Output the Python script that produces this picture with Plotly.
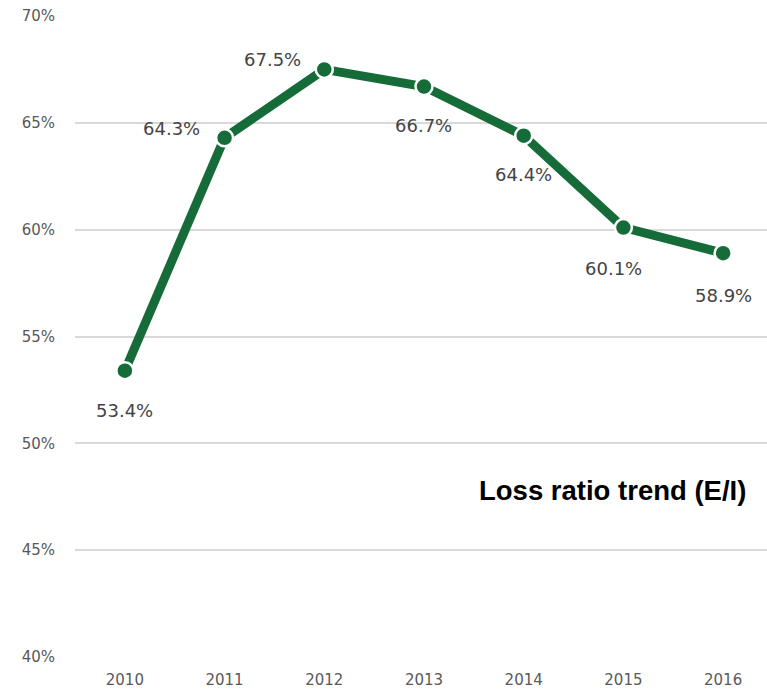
import plotly.graph_objects as go

years = ["2010", "2011", "2012", "2013", "2014", "2015", "2016"]
loss_ratio = [53.4, 64.3, 67.5, 66.7, 64.4, 60.1, 58.9]
y_ticks = [40, 45, 50, 55, 60, 65, 70]
y_tick_text = [f"{t}%" for t in y_ticks]

# label offsets (pixels) relative to each point
label_dx = [0, -53, -52, 0, 0, -10, 0]
label_dy = [-40, 9, 10, -39, -39, -41, -42]

GREEN = "#166c38"

fig = go.Figure()
fig.add_trace(go.Scatter(
    x=years, y=loss_ratio, mode="lines+markers",
    line=dict(color=GREEN, width=9),
    marker=dict(size=17, color=GREEN, line=dict(color="white", width=2.5)),
    hoverinfo="skip", showlegend=False,
))

# category axis: annotations are placed by category index
for i, (v, dx, dy) in enumerate(zip(loss_ratio, label_dx, label_dy)):
    fig.add_annotation(
        x=i, y=v, text=f"{v:.1f}%", showarrow=False,
        xshift=dx, yshift=dy,
        font=dict(family="DejaVu Sans", size=18, color="#444444"),
    )

fig.add_annotation(
    xref="paper", yref="paper", x=0.972, y=0.26, xanchor="right", yanchor="middle",
    text="<b>Loss ratio trend (E/I)</b>", showarrow=False,
    font=dict(family="Liberation Sans", size=27.5, color="#000000"),
)

fig.update_layout(
    width=767, height=693,
    margin=dict(l=75, r=0, t=16, b=36),
    paper_bgcolor="white", plot_bgcolor="white",
    xaxis=dict(
        type="category", range=[-0.5, 6.44],
        showgrid=False, zeroline=False, showline=False, ticks="",
        tickfont=dict(family="DejaVu Sans", size=15, color="#595959"),
        ticklabelstandoff=12,
    ),
    yaxis=dict(
        range=[40, 70], tickmode="array", tickvals=y_ticks, ticktext=y_tick_text,
        showgrid=True, gridcolor="#d9d9d9", gridwidth=2,
        zeroline=False, showline=False, ticks="",
        tickfont=dict(family="DejaVu Sans", size=15, color="#595959"),
        ticklabelstandoff=19,
    ),
)

fig.write_html("out.html")
